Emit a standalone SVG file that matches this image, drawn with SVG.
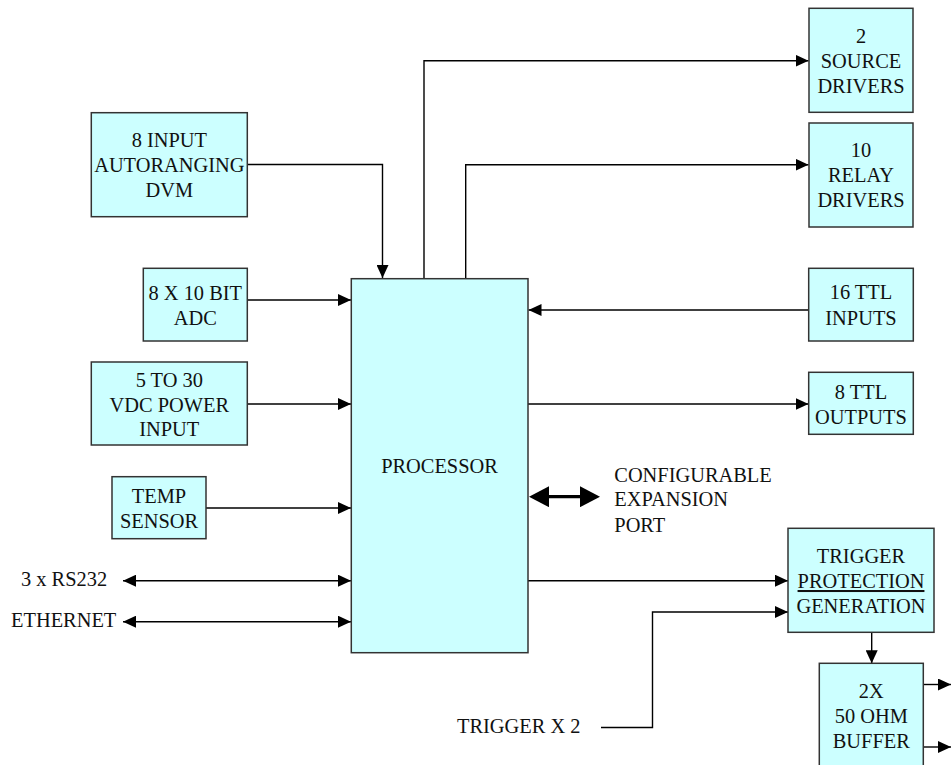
<svg xmlns="http://www.w3.org/2000/svg" width="951" height="765" viewBox="0 0 951 765">
<style>
.box{fill:#CCFFFF;stroke:#333;stroke-width:1.5}
.t{font-family:"Liberation Serif","Times New Roman","DejaVu Serif",serif;font-size:20.4px;fill:#111}
.c{text-anchor:middle}
.ln{fill:none;stroke:#000;stroke-width:1.4}
.arr{marker-end:url(#ah)}
.dbl{marker-start:url(#ah);marker-end:url(#ah)}
</style>
<defs>
<marker id="ah" markerUnits="userSpaceOnUse" markerWidth="13" markerHeight="12" refX="13" refY="6" orient="auto-start-reverse"><path d="M0,0 L13,6 L0,12 z" fill="#000"/></marker>
<marker id="bh" markerUnits="userSpaceOnUse" markerWidth="20" markerHeight="21" refX="16" refY="10.5" orient="auto-start-reverse"><path d="M0,0 L20,10.5 L0,21 z" fill="#000"/></marker>
</defs>
<rect width="951" height="765" fill="#fff"/>
<g id="connectors">
<path class="ln arr" d="M247,164.5 H382.5 V278"/>
<path class="ln arr" d="M424,278 V60.7 H808.5"/>
<path class="ln arr" d="M465.7,278 V164.7 H808.5"/>
<path class="ln arr" d="M247,300 H351"/>
<path class="ln arr" d="M247,404 H351"/>
<path class="ln arr" d="M206,508 H351"/>
<path class="ln dbl" d="M123,580.7 H351"/>
<path class="ln dbl" d="M123,621.7 H351"/>
<path class="ln arr" d="M808.5,310 H528.5"/>
<path class="ln arr" d="M528,404 H808.5"/>
<path class="ln" d="M533,496.7 H596" style="stroke-width:3.2;marker-start:url(#bh);marker-end:url(#bh)"/>
<path class="ln arr" d="M528,580.7 H788"/>
<path class="ln arr" d="M601,727.5 H652.5 V612 H788"/>
<path class="ln arr" d="M871.7,632.5 V663.3"/>
<path class="ln arr" d="M923.3,684.5 H951"/>
<path class="ln arr" d="M923.3,747 H951"/>
</g>
<g id="processor"><rect class="box" x="351.3" y="278.7" width="176.7" height="374"/><text class="t c" x="439.5" y="473">PROCESSOR</text></g>
<g id="source-drivers"><rect class="box" x="809" y="8.3" width="104" height="104"/><text class="t c" x="861" y="42.7">2</text><text class="t c" x="861" y="68">SOURCE</text><text class="t c" x="861" y="93">DRIVERS</text></g>
<g id="relay-drivers"><rect class="box" x="809" y="123" width="104" height="104"/><text class="t c" x="861" y="156.5">10</text><text class="t c" x="861" y="181.5">RELAY</text><text class="t c" x="861" y="206.5">DRIVERS</text></g>
<g id="dvm"><rect class="box" x="91.3" y="112.7" width="156" height="104"/><text class="t c" x="169.3" y="146.5">8 INPUT</text><text class="t c" x="169.3" y="171.5">AUTORANGING</text><text class="t c" x="169.3" y="196.5">DVM</text></g>
<g id="adc"><rect class="box" x="143.3" y="268.3" width="104" height="72.7"/><text class="t c" x="195.3" y="300">8 X 10 BIT</text><text class="t c" x="195.3" y="325">ADC</text></g>
<g id="power"><rect class="box" x="91.3" y="362" width="156" height="83"/><text class="t c" x="169.3" y="386.5">5 TO 30</text><text class="t c" x="169.3" y="411.5">VDC POWER</text><text class="t c" x="169.3" y="436">INPUT</text></g>
<g id="temp"><rect class="box" x="112" y="476.7" width="94" height="62"/><text class="t c" x="159" y="503.3">TEMP</text><text class="t c" x="159" y="528.3">SENSOR</text></g>
<g id="ttl-inputs"><rect class="box" x="808.7" y="268.3" width="104.6" height="72.7"/><text class="t c" x="861" y="299.3">16 TTL</text><text class="t c" x="861" y="325">INPUTS</text></g>
<g id="ttl-outputs"><rect class="box" x="808.7" y="372.3" width="104.6" height="62"/><text class="t c" x="861" y="399.3">8 TTL</text><text class="t c" x="861" y="424.3">OUTPUTS</text></g>
<g id="trigger"><rect class="box" x="788" y="528.3" width="146" height="104"/><text class="t c" x="861" y="563">TRIGGER</text><text class="t c" x="861" y="588" text-decoration="underline">PROTECTION</text><text class="t c" x="861" y="612.7">GENERATION</text></g>
<g id="buffer"><rect class="box" x="819.3" y="663.3" width="104" height="120"/><text class="t c" x="871.3" y="698">2X</text><text class="t c" x="871.3" y="722.7">50 OHM</text><text class="t c" x="871.3" y="747.7">BUFFER</text></g>
<g id="rs232"><text class="t" x="21" y="585.7">3 x RS232</text></g>
<g id="ethernet"><text class="t" x="11" y="627.3">ETHERNET</text></g>
<g id="expansion"><text class="t" x="614.3" y="481.7">CONFIGURABLE</text><text class="t" x="614.3" y="506">EXPANSION</text><text class="t" x="614.3" y="531.5">PORT</text></g>
<g id="trigger-x2"><text class="t" x="457" y="733">TRIGGER X 2</text></g>
</svg>
